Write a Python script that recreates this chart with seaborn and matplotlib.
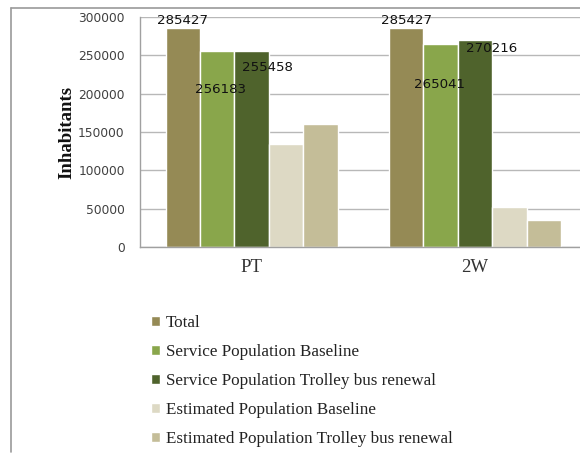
import matplotlib
matplotlib.use("Agg")
import matplotlib.pyplot as plt
from matplotlib.lines import Line2D
from matplotlib.ticker import FixedLocator
import seaborn as sns
import pandas as pd

# ---- data ----
categories = ["PT", "2W"]
series_names = [
    "Total",
    "Service Population Baseline",
    "Service Population Trolley bus renewal",
    "Estimated Population Baseline",
    "Estimated Population Trolley bus renewal",
]
total = [285427, 285427]
service_baseline = [256183, 265041]
service_trolley = [255458, 270216]
estimated_baseline = [134000, 52000]
estimated_trolley = [160000, 35000]
labelled_series = [0, 1, 2]
yticks = [0, 50000, 100000, 150000, 200000, 250000, 300000]

colors = ["#958A55", "#89A64B", "#4F632C", "#DDD9C4", "#C4BD98"]

values = [total, service_baseline, service_trolley, estimated_baseline, estimated_trolley]
rows = []
for name, vals in zip(series_names, values):
    for cat, v in zip(categories, vals):
        rows.append({"category": cat, "series": name, "value": v})
df = pd.DataFrame(rows)

sns.set_style("white")
plt.rcParams["font.family"] = ["DejaVu Sans"]

W, H = 580, 455
fig = plt.figure(figsize=(W / 100, H / 100), dpi=100)
ax = fig.add_axes([140 / W, 1 - 247 / H, 446.75 / W, 230 / H])

sns.barplot(data=df, x="category", y="value", hue="series", order=categories,
            hue_order=series_names, palette=colors, width=0.77, ax=ax,
            edgecolor="white", linewidth=1.0, saturation=1, legend=True)

ax.set_ylim(0, 300000)
ax.set_xlim(-0.5, 1.5)
ax.set_yticks(yticks)
ax.set_yticklabels([str(t) for t in yticks], fontsize=8.8, color="#404040")
ax.tick_params(axis="y", length=5, width=1, color="#a0a0a0", pad=6)
ax.tick_params(axis="x", which="major", length=0, pad=9)
ax.xaxis.set_minor_locator(FixedLocator([-0.5, 0.5, 1.5]))
ax.tick_params(axis="x", which="minor", length=5, width=1, color="#a0a0a0")
for lbl in ax.get_xticklabels():
    lbl.set_family("Liberation Serif")
    lbl.set_fontsize(13.5)
    lbl.set_color("#333333")
ax.set_xlabel("")
ax.set_ylabel("")
ax.grid(axis="y", color="#b8b8b8", linewidth=1)
ax.set_axisbelow(True)
for s in ["top", "right"]:
    ax.spines[s].set_visible(False)
for s in ["left", "bottom"]:
    ax.spines[s].set_color("#a0a0a0")
    ax.spines[s].set_linewidth(1)

fig.text(66.5 / W, 1 - 132 / H, "Inhabitants", rotation=90, ha="center", va="center",
         family="Liberation Serif", fontweight="bold", fontsize=13.5, color="#111111")

# value labels (offsets in pixels: dx right, dy up)
offsets = {
    (0, 0): (0, 8), (0, 1): (0, 8),
    (1, 0): (3, -39), (1, 1): (-1, -41),
    (2, 0): (15.5, -16), (2, 1): (17, -9),
}
for si in labelled_series:
    cont = ax.containers[si]
    for ci, bar in enumerate(cont):
        dx, dy = offsets[(si, ci)]
        xc = bar.get_x() + bar.get_width() / 2
        top = bar.get_height()
        ax.annotate(f"{values[si][ci]}", (xc, top), xytext=(dx * 0.72, dy * 0.72),
                    textcoords="offset points", ha="center", va="center",
                    fontsize=9.6, color="#111111")

handles, labels = ax.get_legend_handles_labels()
ax.get_legend().remove()
leg = fig.legend(handles, labels, loc="upper left", bbox_to_anchor=(151 / W, 1 - 315 / H),
                 frameon=False, handlelength=0.55, handleheight=0.55, handletextpad=0.3,
                 labelspacing=0.76, borderaxespad=0, borderpad=0,
                 prop={"family": "Liberation Serif", "size": 12.3})
for t in leg.get_texts():
    t.set_color("#222222")

# outer frame
fig.add_artist(Line2D([11 / W, 11 / W], [1 - 8 / H, 1 - 452 / H], color="#9a9a9a", lw=1.2,
                      transform=fig.transFigure))
fig.add_artist(Line2D([11 / W, 1.0], [1 - 8 / H, 1 - 8 / H], color="#9a9a9a", lw=1.2,
                      transform=fig.transFigure))

fig.savefig("out.png", dpi=100)
